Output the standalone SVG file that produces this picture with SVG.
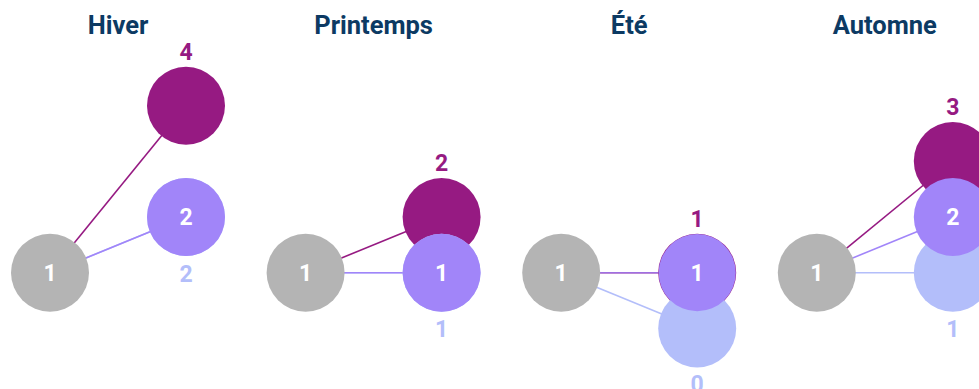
<svg xmlns="http://www.w3.org/2000/svg" width="979" height="389" viewBox="0 0 979 389">
<style>
.title{font-family:Roboto,"Liberation Sans",sans-serif;font-weight:bold;font-size:25.5px;fill:#0c3a63;text-anchor:middle}
.num{font-family:Roboto,"Liberation Sans",sans-serif;font-weight:bold;font-size:23px;text-anchor:middle}
.in{fill:#ffffff}
.lp{fill:#961a82}
.lb{fill:#b3befa}
.gray{fill:#b4b4b4}
.dp{fill:#961a82}
.lav{fill:#a185f9}
.blue{fill:#b3befa}
.e-dp{stroke:#961a82;stroke-width:1.6;fill:none}
.e-lav{stroke:#a185f9;stroke-width:1.6;fill:none}
.e-blue{stroke:#b3befa;stroke-width:1.6;fill:none}
</style>
<g id="titles">
<text class="title" x="118" y="34">Hiver</text>
<text class="title" x="373.6" y="34">Printemps</text>
<text class="title" x="629.2" y="34">Été</text>
<text class="title" x="884.8" y="34">Automne</text>
</g>
<g id="connectors">
<line class="e-blue" x1="50" y1="272.7" x2="186" y2="217"/>
<line class="e-dp" x1="50" y1="272.7" x2="186" y2="105.7"/>
<line class="e-lav" x1="50" y1="272.7" x2="186" y2="217"/>
<line class="e-blue" x1="305.6" y1="272.7" x2="441.6" y2="272.7"/>
<line class="e-dp" x1="305.6" y1="272.7" x2="441.6" y2="217"/>
<line class="e-lav" x1="305.6" y1="272.7" x2="441.6" y2="272.7"/>
<line class="e-blue" x1="561.2" y1="272.7" x2="697.2" y2="328.4"/>
<line class="e-dp" x1="561.2" y1="272.7" x2="697.2" y2="272.7"/>
<line class="e-lav" x1="561.2" y1="272.7" x2="697.2" y2="272.7" stroke-opacity="0.8"/>
<line class="e-blue" x1="816.8" y1="272.7" x2="952.8" y2="272.7"/>
<line class="e-dp" x1="816.8" y1="272.7" x2="952.8" y2="161"/>
<line class="e-lav" x1="816.8" y1="272.7" x2="952.8" y2="217"/>
</g>
<g id="hiver-base"><circle class="gray" cx="50" cy="272.7" r="39"/><text class="num in" x="50" y="281">1</text></g>
<g id="hiver-dp"><circle class="dp" cx="186" cy="105.7" r="39"/><text class="num lp" x="186" y="59.7">4</text></g>
<g id="hiver-blue"><circle class="blue" cx="186" cy="217" r="39"/><text class="num lb" x="186" y="281.5">2</text></g>
<g id="hiver-lav"><circle class="lav" cx="186" cy="217" r="39"/><text class="num in" x="186" y="225.3">2</text></g>

<g id="printemps-base"><circle class="gray" cx="305.6" cy="272.7" r="39"/><text class="num in" x="305.6" y="281">1</text></g>
<g id="printemps-dp"><circle class="dp" cx="441.6" cy="217" r="39"/><text class="num lp" x="441.6" y="171">2</text></g>
<g id="printemps-blue"><circle class="blue" cx="441.6" cy="272.7" r="39"/><text class="num lb" x="441.6" y="337">1</text></g>
<g id="printemps-lav"><circle class="lav" cx="441.6" cy="272.7" r="39"/><text class="num in" x="441.6" y="281">1</text></g>

<g id="ete-base"><circle class="gray" cx="561.2" cy="272.7" r="39"/><text class="num in" x="561.2" y="281">1</text></g>
<g id="ete-dp"><circle class="dp" cx="697.2" cy="272.7" r="39"/><text class="num lp" x="697.2" y="226.7">1</text></g>
<g id="ete-blue"><circle class="blue" cx="697.2" cy="328.4" r="39"/><text class="num lb" x="697.2" y="392.4">0</text></g>
<g id="ete-lav"><circle class="lav" cx="697.2" cy="272.7" r="38.6"/><text class="num in" x="697.2" y="281">1</text></g>

<g id="automne-base"><circle class="gray" cx="816.8" cy="272.7" r="39"/><text class="num in" x="816.8" y="281">1</text></g>
<g id="automne-dp"><circle class="dp" cx="952.8" cy="161" r="39"/><text class="num lp" x="952.8" y="115">3</text></g>
<g id="automne-blue"><circle class="blue" cx="952.8" cy="272.7" r="39"/><text class="num lb" x="952.8" y="337">1</text></g>
<g id="automne-lav"><circle class="lav" cx="952.8" cy="217" r="39"/><text class="num in" x="952.8" y="225.3">2</text></g>
</svg>
